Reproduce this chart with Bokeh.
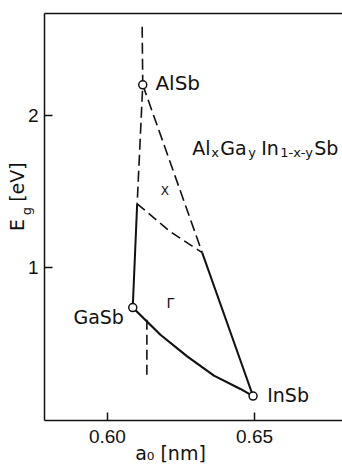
import math
from bokeh.plotting import figure
from bokeh.models import Range1d, FixedTicker, LinearAxis, Label, NumeralTickFormatter
from bokeh.embed import file_html
from bokeh.resources import INLINE

# ---- data (lattice constant a0 [nm], band gap Eg [eV]) ----
binary_names = ["AlSb", "GaSb", "InSb"]
binary_a = [0.6120, 0.6086, 0.6495]
binary_eg = [2.20, 0.74, 0.16]

# Gamma gap: GaSb -> InSb (solid, bowed)
gamma_a = [0.6086, 0.6180, 0.6271, 0.6362, 0.6452, 0.6495]
gamma_eg = [0.74, 0.562, 0.420, 0.294, 0.207, 0.16]

# GaSb -> Gamma/X crossing on Ga-Al side (solid)
gaal_solid_a = [0.6101, 0.6086]
gaal_solid_eg = [1.42, 0.74]

# vertical dashed line through AlSb down to crossing
vert_dash_a = [0.6118, 0.6120, 0.6101]
vert_dash_eg = [2.58, 2.20, 1.42]

# AlSb -> crossing K (dashed) and K -> InSb (solid)
alin_dash_a = [0.6120, 0.6322]
alin_dash_eg = [2.20, 1.10]
alin_solid_a = [0.6322, 0.6495]
alin_solid_eg = [1.10, 0.16]

# Gamma-X crossover line (dashed)
cross_a = [0.6101, 0.6214, 0.6322]
cross_eg = [1.42, 1.237, 1.10]

# short dashed vertical below GaSb
low_dash_a = [0.6134, 0.6134]
low_dash_eg = [0.66, 0.29]

x_ticks = [0.60, 0.65]
y_ticks = [1, 2]
x_title = "a₀ [nm]"
y_title_main = "E"
y_title_sub = "g"
y_title_unit = "[eV]"

FONT = "DejaVu Sans"
TFONT = "Liberation Sans"
INK = "#111111"

p = figure(width=342, height=466,
           x_range=Range1d(0.5786, 0.6799), y_range=Range1d(0.0, 2.667),
           output_backend="svg", toolbar_location=None,
           x_axis_type=None, y_axis_type=None,
           min_border_left=44, min_border_right=0,
           min_border_top=13, min_border_bottom=45)
p.outline_line_color = None
p.background_fill_color = "white"
p.border_fill_color = "white"

# pixel-like helper ranges for placing the axis titles
p.extra_x_ranges = {"px": Range1d(44, 342)}
p.extra_y_ranges = {"py": Range1d(421, 13)}

def style_axis(ax, standoff):
    ax.major_tick_in = 8
    ax.major_tick_out = 0
    ax.minor_tick_in = 0
    ax.minor_tick_out = 0
    ax.axis_line_width = 1.5
    ax.axis_line_color = INK
    ax.major_tick_line_width = 1.5
    ax.major_tick_line_color = INK
    ax.major_label_standoff = standoff
    ax.major_label_text_font = TFONT
    ax.major_label_text_font_size = "19px"
    ax.major_label_text_color = INK

def title_axis(ax, standoff, size):
    ax.major_tick_in = 0
    ax.major_tick_out = 0
    ax.minor_tick_in = 0
    ax.minor_tick_out = 0
    ax.axis_line_color = None
    ax.major_tick_line_color = None
    ax.minor_tick_line_color = None
    ax.major_label_standoff = standoff
    ax.major_label_text_font = FONT
    ax.major_label_text_font_size = size
    ax.major_label_text_color = INK

xaxis = LinearAxis(ticker=FixedTicker(ticks=x_ticks),
                   formatter=NumeralTickFormatter(format="0.00"))
style_axis(xaxis, 9)
p.add_layout(xaxis, "below")

yaxis = LinearAxis(ticker=FixedTicker(ticks=y_ticks),
                   formatter=NumeralTickFormatter(format="0"))
style_axis(yaxis, 6)
p.add_layout(yaxis, "left")

top = LinearAxis(ticker=FixedTicker(ticks=[]))
top.major_tick_in = 0
top.major_tick_out = 0
top.minor_tick_in = 0
top.minor_tick_out = 0
top.major_label_text_font_size = "0px"
top.axis_line_width = 1.5
top.axis_line_color = INK
p.add_layout(top, "above")

# x-axis title
xt = LinearAxis(x_range_name="px", ticker=FixedTicker(ticks=[170]),
                major_label_overrides={170: x_title})
title_axis(xt, -4, "19px")
p.add_layout(xt, "below")

# y-axis title: subscript part (closer to frame), then main text
yt_sub = LinearAxis(y_range_name="py", ticker=FixedTicker(ticks=[211]),
                    major_label_overrides={211: y_title_sub},
                    major_label_orientation="parallel")
title_axis(yt_sub, -10, "13px")
p.add_layout(yt_sub, "left")

yt_main = LinearAxis(y_range_name="py", ticker=FixedTicker(ticks=[225, 182]),
                     major_label_overrides={225: y_title_main, 182: y_title_unit},
                     major_label_orientation="parallel")
title_axis(yt_main, -12, "19px")
p.add_layout(yt_main, "left")

DASH = "11 5"
p.line(vert_dash_a, vert_dash_eg, line_color=INK, line_width=1.6, line_dash=DASH)
p.line(alin_dash_a, alin_dash_eg, line_color=INK, line_width=1.6, line_dash=DASH)
p.line(cross_a, cross_eg, line_color=INK, line_width=1.6, line_dash="10 5")
p.line(low_dash_a, low_dash_eg, line_color=INK, line_width=1.6, line_dash="10 5")
p.line(gaal_solid_a, gaal_solid_eg, line_color=INK, line_width=2)
p.line(alin_solid_a, alin_solid_eg, line_color=INK, line_width=2)
p.line(gamma_a, gamma_eg, line_color=INK, line_width=2.2)
p.scatter(binary_a, binary_eg, size=8, fill_color="white", line_color=INK, line_width=1.5)

def lab(x, y, t, size="19px", align="left", base="middle", xo=0, font=FONT):
    p.add_layout(Label(x=x, y=y, text=t, x_offset=xo, text_font=font,
                       text_font_size=size, text_align=align, text_baseline=base,
                       text_color=INK))

# compound names
lab(0.6163, 2.212, binary_names[0], size="20px")
lab(0.6056, 0.676, binary_names[1], align="right")
lab(0.6543, 0.170, binary_names[2])

# valley labels
lab(0.6195, 1.505, "X", size="12px", align="center")
lab(0.6214, 0.769, "Γ", size="14px", align="center")

# alloy formula Al_x Ga_y In_1-x-y Sb
fx, fy, fys = 0.6288, 1.784, 1.758
lab(fx, fy, "Al", base="alphabetic", xo=0)
lab(fx, fys, "x", size="13px", base="alphabetic", xo=19)
lab(fx, fy, "Ga", base="alphabetic", xo=28)
lab(fx, fys, "y", size="13px", base="alphabetic", xo=56)
lab(fx, fy, "In", base="alphabetic", xo=69)
lab(fx, fys, "1-x-y", size="13px", base="alphabetic", xo=88)
lab(fx, fy, "Sb", base="alphabetic", xo=122)

open("out.html", "w").write(file_html(p, INLINE))
